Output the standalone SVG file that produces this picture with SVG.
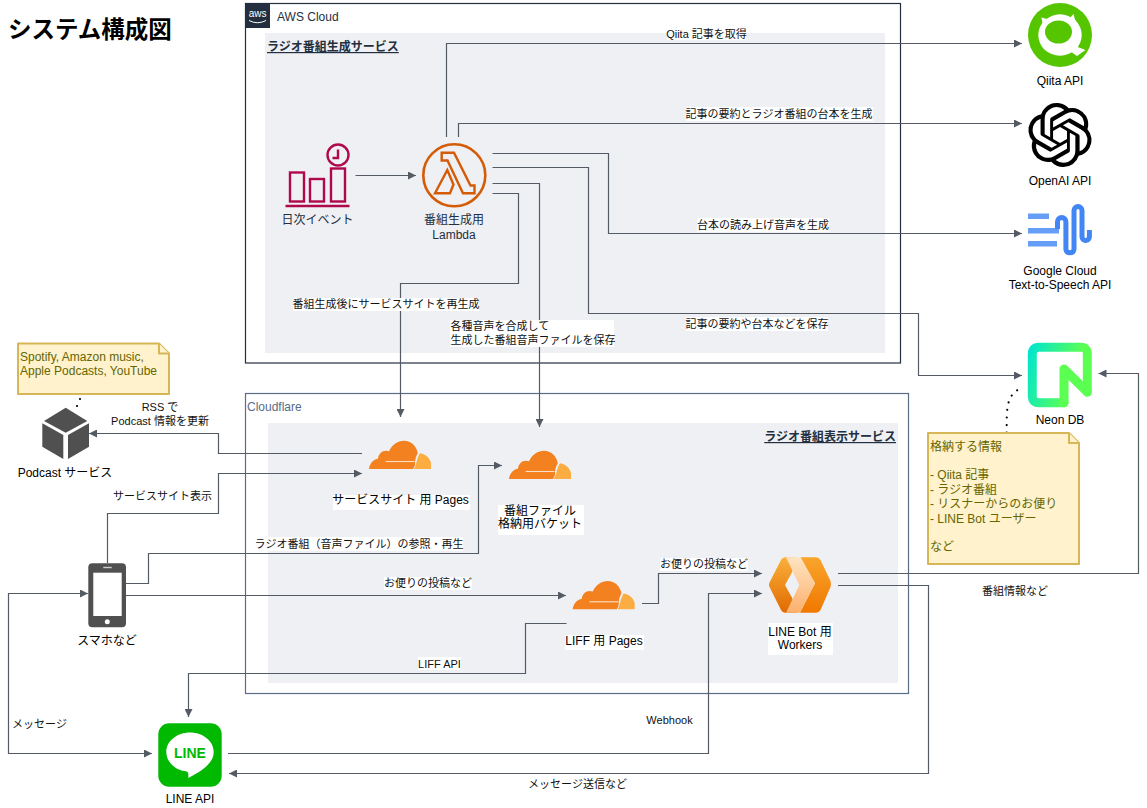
<svg xmlns="http://www.w3.org/2000/svg" xmlns:xlink="http://www.w3.org/1999/xlink" width="1147" height="808" viewBox="0 0 1147 808">
<style>
text{font-family:"Liberation Sans","Noto Sans CJK JP",sans-serif;font-size:12px;fill:#000}
.m{text-anchor:middle}
.c{font-size:11px;fill:#111}
.aws{fill:#232F3E}
.sec{font-weight:bold;fill:#232F3E;text-decoration:underline}
.note{fill:#666600}
.zone{fill:#EFF0F4}
.bg{fill:#fff}
.conn{fill:none;stroke:#545B64;stroke-width:1.2;marker-end:url(#arrow)}
.dot{fill:none;stroke:#000;stroke-width:2.2;stroke-linecap:round;stroke-dasharray:0 7.6}
.notebox{fill:#FFF2CC;stroke:#D6B656;stroke-width:2;stroke-linejoin:round}
.dark{fill:#505050}
</style>
<defs>
<marker id="arrow" viewBox="0 0 8 8" refX="8" refY="4" markerWidth="8" markerHeight="8" markerUnits="userSpaceOnUse" orient="auto-start-reverse"><path d="M0 0L8 4L0 8Z" fill="#545B64"/></marker>
<g id="cf">
<path d="M0 28.3C.5 23 4.5 18.5 9 18C9.5 12 14.5 8.5 20 10.5C23 4 29 0 35 0C42 0 47.5 5 48.8 12.5C47 15 46.5 18 46 21C46.5 24 45.5 26 44 28.3Z" fill="#F48120"/>
<path d="M44.8 28.3C46.5 26 47 23 47.6 21C48.5 17 49.5 15 51 12.5C57 13 61 18 62 22V28.3Z" fill="#FBAD41"/>
<path d="M16.7 20.8H45.5" stroke="#fff" stroke-width="1.1" opacity=".75"/>
</g>
<linearGradient id="neon" gradientUnits="userSpaceOnUse" x1="1030" y1="345" x2="1080" y2="360"><stop offset="0" stop-color="#00E5D0"/><stop offset="1" stop-color="#5BFF52"/></linearGradient>
<linearGradient id="wl" x1="0" y1="0" x2="0" y2="1"><stop offset="0" stop-color="#FBB03B"/><stop offset="1" stop-color="#E06A00"/></linearGradient>
<linearGradient id="wm" x1="0" y1="0" x2="0" y2="1"><stop offset="0" stop-color="#FFE4C2"/><stop offset="1" stop-color="#FBB06C"/></linearGradient>
<linearGradient id="wr" x1="0" y1="0" x2="0" y2="1"><stop offset="0" stop-color="#F9A52C"/><stop offset="1" stop-color="#F07800"/></linearGradient>
</defs>
<rect width="1147" height="808" fill="#fff"/>
<text x="8" y="37.500" style="font-size:23.500px;font-weight:bold">システム構成図</text>

<g id="aws-cloud">
<rect x="245.5" y="3.5" width="655" height="359.5" fill="#fff" stroke="#232F3E" stroke-width="1.2"/>
<rect x="245.5" y="3.5" width="24.5" height="24.5" fill="#232F3E"/>
<text x="257.7" y="17" class="m" style="font-size:10px;fill:#fff">aws</text>
<path d="M249 20.5Q257.5 25 266 20.5" fill="none" stroke="#fff" stroke-width="1"/>
<text x="277" y="21" class="aws">AWS Cloud</text>
<rect x="265" y="33" width="620" height="320" class="zone"/>
<text x="267" y="51" class="sec">ラジオ番組生成サービス</text>
</g>

<g id="cloudflare">
<rect x="245.5" y="393.5" width="663" height="300" fill="#fff" stroke="#5A6C86" stroke-width="1.2"/>
<text x="247" y="411" style="fill:#5A6C86">Cloudflare</text>
<rect x="268" y="423" width="630" height="260" class="zone"/>
<text x="896" y="441" class="sec" text-anchor="end">ラジオ番組表示サービス</text>
</g>

<g id="connectors">
<path class="conn" d="M355.5 175.5H416"/>
<path class="conn" d="M446.5 137V43.5H1022"/>
<path class="conn" d="M458.5 137V123.5H1022"/>
<path class="conn" d="M492.5 153.5H608.5V233.5H1022"/>
<path class="conn" d="M492.5 167.5H588.5V313.5H918.5V375.5H1022"/>
<path class="conn" d="M492.5 183.5H539.5V427"/>
<path class="conn" d="M492.5 193.5H518.5V283.5H400.5V417"/>
<path class="conn" d="M362 453.5H218.5V433.5H89"/>
<path class="conn" d="M107.5 563V513.5H218.5V473.5H362"/>
<path class="conn" d="M126 583.5H148.5V553.5H478.5V465.5H502"/>
<path class="conn" d="M126 595.5H566"/>
<path class="conn" d="M642 603.5H658.5V573.5H762"/>
<path class="conn" d="M228 753.5H708.5V593.5H762"/>
<path class="conn" d="M566.5 623.5H525.5V673.5H188.5V717"/>
<path class="conn" style="marker-start:url(#arrow)" d="M88 593.5H8.5V753.5H152"/>
<path class="conn" d="M838 573.5H1138.5V373.5H1098.5"/>
<path class="conn" d="M838 585.5H928.5V773.5H229"/>
<path class="dot" d="M80 399L77 406"/>
<path class="dot" d="M1006.7 432.7C1006.7 410 1006 396 1019 389.3"/>
<rect x="667" y="27" width="79" height="13" class="bg"/><text x="706.5" y="37.5" class="c m">Qiita 記事を取得</text>
<rect x="686" y="107" width="187" height="14" class="bg"/><text x="779" y="118" class="c m">記事の要約とラジオ番組の台本を生成</text>
<rect x="697" y="218" width="132" height="14" class="bg"/><text x="763" y="229" class="c m">台本の読み上げ音声を生成</text>
<rect x="686" y="317" width="142" height="14" class="bg"/><text x="757" y="328" class="c m">記事の要約や台本などを保存</text>
<rect x="293" y="298" width="186" height="13" class="bg"/><text x="386" y="308" class="c m">番組生成後にサービスサイトを再生成</text>
<rect x="450" y="320" width="164" height="27" class="bg"/><text x="450.5" y="330" class="c">各種音声を合成して</text><text x="450.5" y="344" class="c">生成した番組音声ファイルを保存</text>
<text x="160" y="411" class="c m">RSS で</text><text x="160" y="425" class="c m">Podcast 情報を更新</text>
<text x="162.5" y="500" class="c m">サービスサイト表示</text>
<rect x="255" y="537" width="208" height="14" class="bg"/><text x="359" y="548" class="c m">ラジオ番組（音声ファイル）の参照・再生</text>
<rect x="384" y="577" width="88" height="13" class="bg"/><text x="428" y="587" class="c m">お便りの投稿など</text>
<rect x="660" y="558" width="88" height="13" class="bg"/><text x="704" y="567.5" class="c m">お便りの投稿など</text>
<rect x="418" y="657" width="43" height="13" class="bg"/><text x="439.5" y="668" class="c m">LIFF API</text>
<text x="669.5" y="724" class="c m">Webhook</text>
<text x="39.5" y="728" class="c m">メッセージ</text>
<text x="577.5" y="788" class="c m">メッセージ送信など</text>
<text x="1015" y="595" class="c m">番組情報など</text>
</g>

<g id="event">
<g fill="none" stroke="#B0084D" stroke-width="2.4">
<rect x="290" y="172.5" width="14" height="29"/>
<rect x="310" y="179" width="14" height="22.5"/>
<rect x="331" y="168.5" width="14" height="33"/>
<circle cx="338" cy="155" r="10.5"/>
<path d="M338 149.5V158H332.5"/>
<path d="M285.5 206H349.5"/>
</g>
<text x="317.5" y="224" class="m aws">日次イベント</text>
</g>

<g id="lambda">
<circle cx="454.3" cy="175.3" r="31" fill="none" stroke="#D45B07" stroke-width="2.6"/>
<g fill="none" stroke="#D45B07" stroke-width="2.4" stroke-linejoin="miter">
<path d="M441.7 152.7H454L470.500 185.500H474.500V193.300H463L447.500 160.500H441.700Z"/>
<path d="M447.300 170L435 193.300H450L453.500 184.500Z"/>
</g>
<text x="454" y="224" class="m aws">番組生成用</text>
<text x="454" y="238.5" class="m aws">Lambda</text>
</g>

<g id="qiita">
<circle cx="1060" cy="35" r="32" fill="#55C500"/>
<ellipse cx="1060" cy="35" rx="21.700" ry="20.700" fill="#fff"/>
<path d="M1041.300 17.500L1051 20L1044 29Z M1073.500 14L1068 20L1076.500 25Z M1075 46L1085.500 50L1077 56L1070 51Z" fill="#fff"/>
<ellipse cx="1058.500" cy="32" rx="13.500" ry="11.500" fill="#55C500"/>
</g>
<text x="1060" y="85" class="m">Qiita API</text>

<g id="openai">
<path transform="translate(1028 103) scale(2.667)" fill="#000" d="M22.2819 9.8211a5.9847 5.9847 0 0 0-.5157-4.9108 6.0462 6.0462 0 0 0-6.5098-2.9A6.0651 6.0651 0 0 0 4.9807 4.1818a5.9847 5.9847 0 0 0-3.9977 2.9 6.0462 6.0462 0 0 0 .7427 7.0966 5.98 5.98 0 0 0 .511 4.9107 6.051 6.051 0 0 0 6.5146 2.9001A5.9847 5.9847 0 0 0 13.2599 24a6.0557 6.0557 0 0 0 5.7718-4.2058 5.9894 5.9894 0 0 0 3.9977-2.9001 6.0557 6.0557 0 0 0-.7475-7.0729zm-9.022 12.6081a4.4755 4.4755 0 0 1-2.8764-1.0408l.1419-.0804 4.7783-2.7582a.7948.7948 0 0 0 .3927-.6813v-6.7369l2.02 1.1686a.071.071 0 0 1 .038.052v5.5826a4.504 4.504 0 0 1-4.4945 4.4944zm-9.6607-4.1254a4.4708 4.4708 0 0 1-.5346-3.0137l.142.0852 4.783 2.7582a.7712.7712 0 0 0 .7806 0l5.8428-3.3685v2.3324a.0804.0804 0 0 1-.0332.0615L9.74 19.9502a4.4992 4.4992 0 0 1-6.1408-1.6464zM2.3408 7.8956a4.485 4.485 0 0 1 2.3655-1.9728V11.6a.7664.7664 0 0 0 .3879.6765l5.8144 3.3543-2.0201 1.1685a.0757.0757 0 0 1-.071 0l-4.8303-2.7865A4.504 4.504 0 0 1 2.3408 7.872zm16.5963 3.8558L13.1038 8.364 15.1192 7.2a.0757.0757 0 0 1 .071 0l4.8303 2.7913a4.4944 4.4944 0 0 1-.6765 8.1042v-5.6772a.79.79 0 0 0-.407-.667zm2.0107-3.0231l-.142-.0852-4.7735-2.7818a.7759.7759 0 0 0-.7854 0L9.409 9.2297V6.8974a.0662.0662 0 0 1 .0284-.0615l4.8303-2.7866a4.4992 4.4992 0 0 1 6.6802 4.66zM8.3065 12.863l-2.02-1.1638a.0804.0804 0 0 1-.038-.0567V6.0742a4.4992 4.4992 0 0 1 7.3757-3.4537l-.142.0805L8.704 5.459a.7948.7948 0 0 0-.3927.6813zm1.0976-2.3654l2.602-1.4998 2.6069 1.4998v2.9994l-2.5974 1.4997-2.6067-1.4997Z"/>
</g>
<text x="1060" y="185" class="m">OpenAI API</text>

<g id="google-tts">
<rect x="1028" y="213.500" width="21" height="5.500" fill="#669DF6"/>
<rect x="1028" y="228" width="31" height="5.500" fill="#669DF6"/>
<rect x="1028" y="241" width="29" height="5.500" fill="#669DF6"/>
<path d="M1057.500 229V221.700A4.200 4.200 0 0 1 1065.900 221.700V249.400A4.100 4.100 0 0 0 1074 249.400V210.500A4 4 0 0 1 1082 210.500V236.800A3.700 3.700 0 0 0 1089.400 236.800V230" fill="none" stroke="#4285F4" stroke-width="5"/>
<text x="1060" y="275" class="m">Google Cloud</text>
<text x="1060" y="289" class="m">Text-to-Speech API</text>
</g>

<g id="neon-db">
<path d="M1064 402.700H1039Q1032.300 402.700 1032.300 396V354Q1032.300 347.300 1039 347.300H1081Q1087.300 347.300 1087.300 354V392" fill="none" stroke="url(#neon)" stroke-width="9" stroke-linecap="round"/>
<path d="M1064 402.700V369L1087.300 392" fill="none" stroke="#5BFF52" stroke-width="9" stroke-linecap="round" stroke-linejoin="round"/>
<text x="1060" y="424" class="m">Neon DB</text>
</g>

<g id="note-db">
<path class="notebox" d="M928 433H1069L1079 443V564H928Z"/>
<path class="notebox" d="M1069 433V443H1079" fill="none"/>
<text x="930" y="450.500" class="note">格納する情報</text>
<text x="930" y="479" class="note">- Qiita 記事</text>
<text x="930" y="493.500" class="note">- ラジオ番組</text>
<text x="930" y="508" class="note">- リスナーからのお便り</text>
<text x="930" y="522.500" class="note">- LINE Bot ユーザー</text>
<text x="930" y="551" class="note">など</text>
</g>

<g id="note-podcast">
<path class="notebox" d="M18 343.500H159L169 353.500V394H18Z"/>
<path class="notebox" d="M159 343.500V353.500H169"/>
<text x="20" y="361" class="note">Spotify, Amazon music,</text>
<text x="20" y="375" class="note">Apple Podcasts, YouTube</text>
</g>

<g id="podcast">
<path class="dark" d="M65.700 407.700L87.300 421L65.700 432.700L44 421Z"/>
<path class="dark" d="M42.300 423.300L63.300 435V459L42.300 446.700Z"/>
<path class="dark" d="M68 435L89 423.300V446.700L68 459Z"/>
<text x="65" y="476.700" class="m">Podcast サービス</text>
</g>

<g id="site-pages">
<use xlink:href="#cf" href="#cf" x="369" y="440.700"/>
<rect x="333" y="495" width="137" height="15" class="bg"/>
<text x="400.500" y="504.300" class="m">サービスサイト 用 Pages</text>
</g>

<g id="bucket">
<use xlink:href="#cf" href="#cf" x="509" y="450.700"/>
<rect x="498" y="505" width="86" height="30" class="bg"/>
<text x="540" y="515" class="m">番組ファイル</text>
<text x="540" y="528.300" class="m">格納用バケット</text>
</g>

<g id="liff-pages">
<use xlink:href="#cf" href="#cf" x="572.700" y="581"/>
<rect x="565" y="635" width="79" height="15" class="bg"/>
<text x="604" y="644.800" class="m">LIFF 用 Pages</text>
</g>

<g id="workers">
<path d="M769.500 582.500L781 560Q782.500 557.300 785 557.300H795L792.300 571.700L785 585L792.300 598.300L797 612.700H785Q782.500 612.700 781 610L769.500 587Q768.500 585 769.500 582.500Z" fill="url(#wl)"/>
<path d="M800 557.300H816Q819 557.300 820.500 560L830.500 581Q831.500 584 830.500 587L820.500 610Q819 612.700 816 612.700H800L815 583.300Z" fill="url(#wr)"/>
<path d="M786 557.300H800.700L815 583.300L800 612.700H786L799.300 585Z" fill="url(#wm)"/>
<rect x="768" y="623" width="65" height="32" class="bg"/>
<text x="800" y="635.500" class="m">LINE Bot 用</text>
<text x="800" y="649" class="m">Workers</text>
</g>

<g id="phone">
<rect x="88.300" y="563.300" width="37.700" height="64" rx="4" class="dark"/>
<rect x="93.300" y="572.700" width="28.400" height="43.300" fill="#fff"/>
<rect x="103.300" y="566.800" width="8.400" height="1.400" fill="#ccc"/>
<circle cx="107.300" cy="621.700" r="2.500" fill="#fff"/>
<text x="107" y="644.500" class="m">スマホなど</text>
</g>

<g id="line-api">
<rect x="158.300" y="723.300" width="63.400" height="63.400" rx="11" fill="#00B900"/>
<path d="M190 732.500C203 732.500 213.700 741 213.700 752C213.700 762 204 770 188.300 778C188.500 775 188.500 772.500 187 771.500C175 770.500 166.300 762 166.300 752C166.300 741 177 732.500 190 732.500Z" fill="#fff"/>
<text x="190" y="758" class="m" style="font-size:14px;font-weight:bold;fill:#00B900">LINE</text>
<text x="190" y="803" class="m">LINE API</text>
</g>
</svg>
